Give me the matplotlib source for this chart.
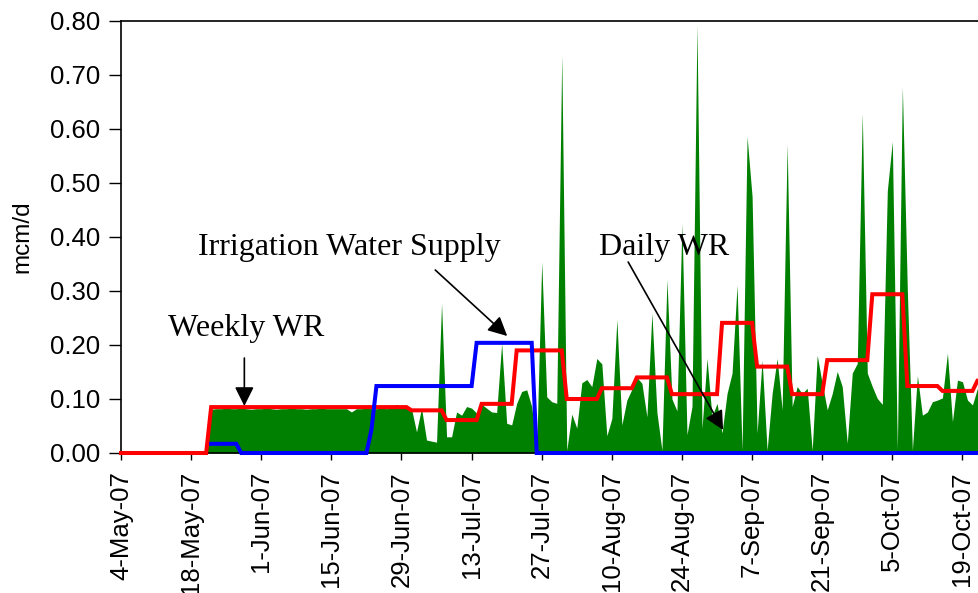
import numpy as np
import matplotlib
matplotlib.use("Agg")
import matplotlib.pyplot as plt

# ---------------- data ----------------
# x axis: days since 4-May-07
tick_days = [0, 14, 28, 42, 56, 70, 84, 98, 112, 126, 140, 154, 168]
tick_labels = ["4-May-07", "18-May-07", "1-Jun-07", "15-Jun-07", "29-Jun-07",
               "13-Jul-07", "27-Jul-07", "10-Aug-07", "24-Aug-07", "7-Sep-07",
               "21-Sep-07", "5-Oct-07", "19-Oct-07"]

# Daily WR (mcm/d), one value per day from 4-May-07
daily_wr = [
    0, 0, 0, 0, 0, 0, 0, 0, 0, 0,                                   # 0-9
    0, 0, 0, 0, 0, 0, 0, 0,                                         # 10-17
    0.081, 0.082, 0.082, 0.083, 0.082, 0.082, 0.083, 0.082, 0.081, 0.082,  # 18-27
    0.082, 0.083, 0.082, 0.081, 0.082, 0.082, 0.083, 0.082, 0.082, 0.081,  # 28-37
    0.082, 0.082, 0.083, 0.082, 0.082, 0.082, 0.082, 0.082, 0.076, 0.082,  # 38-47
    0.082, 0.083, 0.082, 0.082, 0.083, 0.082, 0.083, 0.090, 0.085, 0.083,  # 48-57
    0.082, 0.039, 0.083, 0.024, 0.022, 0.020, 0.277, 0.030, 0.030, 0.076,  # 58-67
    0.070, 0.086, 0.083, 0.074, 0.090, 0.083, 0.076, 0.075, 0.203, 0.055,  # 68-77
    0.052, 0.092, 0.114, 0.117, 0.086, 0.010, 0.354, 0.104, 0.095, 0.092,  # 78-87
    0.737, 0.005, 0.072, 0.046, 0.130, 0.136, 0.123, 0.175, 0.165, 0.032,  # 88-97
    0.064, 0.247, 0.052, 0.098, 0.118, 0.140, 0.129, 0.067, 0.259, 0.075,  # 98-107
    0.005, 0.321, 0.100, 0.078, 0.425, 0.034, 0.086, 0.793, 0.045, 0.175,  # 108-117
    0.067, 0.092, 0.037, 0.110, 0.148, 0.311, 0.005, 0.586, 0.475, 0.037,  # 118-127
    0.172, 0.005, 0.110, 0.175, 0.080, 0.572, 0.086, 0.123, 0.110, 0.120,  # 128-137
    0.005, 0.181, 0.129, 0.080, 0.110, 0.151, 0.123, 0.018, 0.148, 0.166,  # 138-147
    0.629, 0.148, 0.123, 0.101, 0.090, 0.486, 0.577, 0.005, 0.678, 0.300,  # 148-157
    0.005, 0.143, 0.070, 0.076, 0.095, 0.098, 0.102, 0.185, 0.058, 0.135,  # 158-167
    0.132, 0.098, 0.089, 0.120, 0.120,                                     # 168-172
]

# Weekly WR: value per period and period length (days)
weekly_values = [0.0, 0.085, 0.079, 0.061, 0.091, 0.190, 0.100, 0.120, 0.140,
                 0.109, 0.241, 0.160, 0.109, 0.172, 0.294, 0.124, 0.115, 0.134]
weekly_lengths = [18, 40, 7, 7, 7, 10, 7, 7, 7, 10, 7, 7, 7, 9, 7, 7, 7, 2]

# Irrigation water supply: value per period and period length (days)
supply_values = [np.nan, 0.017, 0.0, 0.043, 0.124, 0.204, 0.0]
supply_lengths = [18, 6, 26, 1, 20, 12, 90]

weekly_wr = np.repeat(weekly_values, weekly_lengths)
supply = np.repeat(supply_values, supply_lengths)
days = np.arange(len(daily_wr))
days_w = np.arange(len(weekly_wr))
days_s = np.arange(len(supply))

# ---------------- figure ----------------
W, H = 979, 593
fig = plt.figure(figsize=(W / 100, H / 100), dpi=100)
left_px, top_px, bottom_px = 121, 21, 453
ax = fig.add_axes([left_px / W, 1 - bottom_px / H, (W - left_px) / W,
                   (bottom_px - top_px) / H])

ax.fill_between(days, daily_wr, 0, color="#008000", lw=0, zorder=2)
ax.plot(days_w, weekly_wr, color="#FF0000", lw=2.9, zorder=3, clip_on=False,
        solid_joinstyle="miter")
ax.plot(days_s, supply, color="#0000FF", lw=2.9, zorder=4, clip_on=False,
        solid_joinstyle="miter")

ax.set_xlim(0, (W - 120.6) / 5.011)
ax.set_ylim(0, 0.8)

sans = ["Liberation Sans", "DejaVu Sans"]
ax.set_xticks(tick_days)
ax.set_xticklabels(tick_labels, rotation=90, fontsize=18.5, family=sans)
ax.set_yticks(np.arange(0, 0.81, 0.1))
ax.set_yticklabels([f"{v:.2f}" for v in np.arange(0, 0.81, 0.1)],
                   fontsize=18.5, family=sans)
ax.tick_params(axis="x", direction="out", length=5, width=1, pad=8)
ax.tick_params(axis="y", direction="out", length=9, width=1, pad=6)

for s in ["left", "top", "bottom"]:
    ax.spines[s].set_linewidth(1.2)
ax.spines["right"].set_visible(False)

fig.text(22 / W, 1 - 237 / H, "mcm/d", rotation=90, ha="center", va="center",
         fontsize=17.5, family=sans)

# ---------------- annotations ----------------
def px2data(x, y):
    return (x - 120.6) / 5.011, (453 - y) / 540.0

serif = ["Liberation Serif", "DejaVu Serif"]
for label, (tx, ty) in [("Irrigation Water Supply", (198, 255)),
                        ("Weekly WR", (168, 336)),
                        ("Daily WR", (599, 255))]:
    dx, dy = px2data(tx, ty)
    ax.text(dx, dy, label, fontsize=23, family=serif, ha="left", va="baseline",
            zorder=6)

arrow_kw = dict(arrowstyle="-|>,head_length=0.4,head_width=0.2", color="black",
                lw=1.2, shrinkA=0, shrinkB=0, mutation_scale=29)
for (sx, sy), (ex, ey) in [((244, 358), (244, 406)),
                           ((435, 270), (507, 336)),
                           ((628, 262), (723, 430))]:
    ax.annotate("", xy=px2data(ex, ey), xytext=px2data(sx, sy),
                xycoords="data", textcoords="data", arrowprops=arrow_kw,
                zorder=6)

fig.savefig("out.png", dpi=100)
